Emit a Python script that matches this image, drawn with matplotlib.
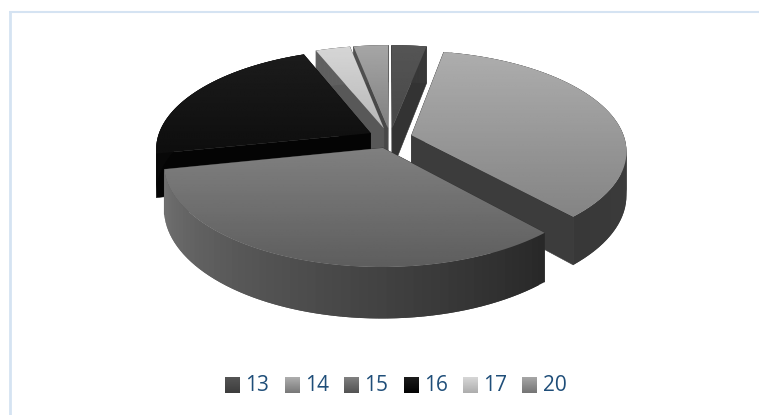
import numpy as np
import matplotlib
matplotlib.use("Agg")
import matplotlib.pyplot as plt
from matplotlib.patches import Polygon
from matplotlib.collections import PolyCollection

categories = ["13", "14", "15", "16", "17", "20"]
values = [3, 35, 33, 22, 3, 3]
top_light = [0x55, 0xad, 0x80, 0x1c, 0xd6, 0xa6]
top_dark = [0x48, 0x84, 0x5e, 0x0e, 0xb8, 0x80]
wall_start = [0x38, 0x44, 0x28, 0x08, 0x60, 0x50]
wall_end = [0x38, 0x38, 0x72, 0x08, 0x60, 0x50]
cut_shade = [0x33, 0x3c, 0x30, 0x04, 0x58, 0x48]
draw_order = [5, 4, 0, 3, 1, 2]

W, H = 759, 415
CX, CY, R, K, P, THICK, EXPLODE = 390, 138, 213, 0.46, 0.15, 43, 0.105

fig = plt.figure(figsize=(W / 100, H / 100), dpi=100)
ax = fig.add_axes([0, 0, 1, 1])
ax.set_xlim(0, W)
ax.set_ylim(H, 0)
ax.axis("off")

ax.plot([9.5, 9.5], [H, 12.5], color="#d5e3f2", lw=2, solid_capstyle="butt")
ax.plot([8.5, W], [12.5, 12.5], color="#d5e3f2", lw=1.5, solid_capstyle="butt")


def project(u, v, z=0.0):
    w = 1 / (1 + P * v)
    return CX + R * u * w, CY - R * K * v * w + THICK * z * w


angles = np.concatenate([[0], np.cumsum(values)]) / sum(values) * 360
zo = 2
for i in draw_order:
    a0, a1 = np.radians(angles[i]), np.radians(angles[i + 1])
    mid = (a0 + a1) / 2
    ex, ey = EXPLODE * np.sin(mid), EXPLODE * np.cos(mid)
    t = np.linspace(a0, a1, 60)
    us, vs = ex + np.sin(t), ey + np.cos(t)

    # cut faces
    for a in (a0, a1):
        ue, ve = ex + np.sin(a), ey + np.cos(a)
        quad = [project(ex, ey, 0), project(ue, ve, 0), project(ue, ve, 1), project(ex, ey, 1)]
        g = cut_shade[i] / 255
        ax.add_patch(Polygon(quad, closed=True, fc=(g, g, g), ec=(g, g, g), lw=0.4, zorder=zo))
    zo += 1

    # outer wall: overlapping strips hide seams
    quads, cols = [], []
    for j in range(len(t) - 1):
        k2 = min(j + 2, len(t) - 1)
        quads.append([project(us[j], vs[j], 0), project(us[k2], vs[k2], 0),
                      project(us[k2], vs[k2], 1), project(us[j], vs[j], 1)])
        f = j / (len(t) - 2)
        g = (wall_start[i] * (1 - f) + wall_end[i] * f) / 255
        cols.append((g, g, g))
    ax.add_collection(PolyCollection(quads, facecolors=cols, edgecolors="none", zorder=zo))
    zo += 1

    # top face with vertical gradient
    pts = [project(ex, ey)] + [project(a, b) for a, b in zip(us, vs)]
    poly = Polygon(pts, closed=True, fc="none", ec="none", zorder=zo)
    ax.add_patch(poly)
    xs, ys = zip(*pts)
    grad = np.linspace(top_light[i], top_dark[i], 64)[:, None] / 255
    im = ax.imshow(grad, cmap="gray", vmin=0, vmax=1, aspect="auto", interpolation="bilinear",
                   extent=(min(xs), max(xs), max(ys), min(ys)), zorder=zo)
    im.set_clip_path(poly)
    zo += 1

ax.set_xlim(0, W)
ax.set_ylim(H, 0)

legend_sq_x = [225, 285, 344, 404, 463, 522]
for i, (name, x) in enumerate(zip(categories, legend_sq_x)):
    grad = np.linspace(top_light[i], top_dark[i] - 10, 16)[:, None] / 255
    ax.imshow(grad, cmap="gray", vmin=0, vmax=1, aspect="auto",
              extent=(x, x + 15, 393, 378), zorder=50)
    ax.text(x + 20.5, 385.5, name, color="#1f4e79", fontsize=15, family="Open Sans",
            va="center", ha="left", zorder=51)
ax.set_xlim(0, W)
ax.set_ylim(H, 0)

fig.savefig("out.png", dpi=100, facecolor="white")
